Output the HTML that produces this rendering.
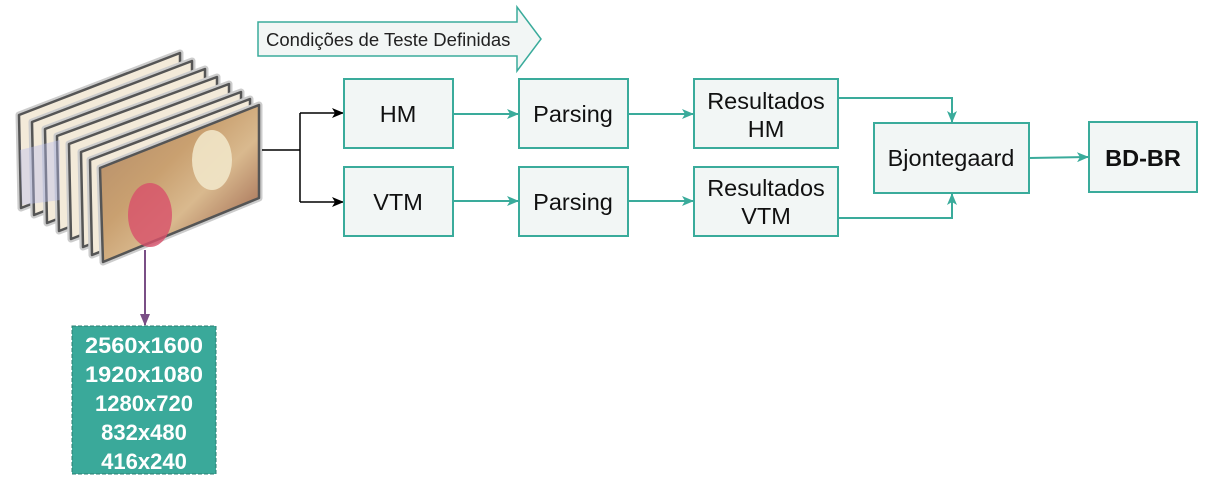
<!DOCTYPE html>
<html><head><meta charset="utf-8"><style>
body{margin:0;background:#fff}
svg{display:block}
text{font-family:"Liberation Sans",Arial,sans-serif}
</style></head><body>
<svg width="1208" height="500" viewBox="0 0 1208 500" xmlns="http://www.w3.org/2000/svg">
<defs>
<marker id="at" markerWidth="12" markerHeight="10" refX="11" refY="5" orient="auto" markerUnits="userSpaceOnUse"><path d="M0,0 L12,5 L0,10 L3,5 z" fill="#3aab9b"/></marker>
<marker id="ab" markerWidth="12" markerHeight="10" refX="11" refY="5" orient="auto" markerUnits="userSpaceOnUse"><path d="M0,0 L12,5 L0,10 L3,5 z" fill="#000"/></marker>
<linearGradient id="img" x1="0" y1="0" x2="1" y2="1"><stop offset="0" stop-color="#b08a6a"/><stop offset="0.4" stop-color="#c9a070"/><stop offset="0.6" stop-color="#d9b98e"/><stop offset="1" stop-color="#8a4a3a"/></linearGradient>
</defs>
<!-- frames -->
<g stroke-linejoin="round">
<g fill="#f3ead9" stroke="#555" stroke-width="2.5">
<path d="M19,115 L180,53 L180,146 L21,208 Z" stroke="#ccc" stroke-width="7"/>
<path d="M19,115 L180,53 L180,146 L21,208 Z"/>
<path d="M32,122 L192,61 L192,154 L34,215 Z" stroke="#ccc" stroke-width="7"/>
<path d="M32,122 L192,61 L192,154 L34,215 Z"/>
<path d="M45,129 L205,69 L205,162 L47,223 Z" stroke="#ccc" stroke-width="7"/>
<path d="M45,129 L205,69 L205,162 L47,223 Z"/>
<path d="M57,136 L217,77 L217,170 L59,231 Z" stroke="#ccc" stroke-width="7"/>
<path d="M57,136 L217,77 L217,170 L59,231 Z"/>
<path d="M69,144 L229,84 L229,178 L71,239 Z" stroke="#ccc" stroke-width="7"/>
<path d="M69,144 L229,84 L229,178 L71,239 Z"/>
<path d="M81,152 L241,92 L241,186 L83,247 Z" stroke="#ccc" stroke-width="7"/>
<path d="M81,152 L241,92 L241,186 L83,247 Z"/>
<path d="M90,160 L250,99 L250,192 L92,255 Z" stroke="#ccc" stroke-width="7"/>
<path d="M90,160 L250,99 L250,192 L92,255 Z"/>
</g>
<path d="M100,168 L259,105 L259,198 L103,262 Z" fill="url(#img)" stroke="#ccc" stroke-width="7"/>
<path d="M100,168 L259,105 L259,198 L103,262 Z" fill="url(#img)" stroke="#555" stroke-width="2.5"/>
<path d="M20,150 L60,140 L60,200 L22,205Z" fill="#b9bff0" opacity="0.4"/>
<ellipse cx="150" cy="215" rx="22" ry="32" fill="#d8506a" opacity="0.8"/>
<ellipse cx="212" cy="160" rx="20" ry="30" fill="#f1e6c8" opacity="0.9"/>
</g>
<!-- banner arrow -->
<path d="M258,22 L517,22 L517,7 L541,39 L517,71 L517,56 L258,56 Z" fill="#f2f6f5" stroke="#3aab9b" stroke-width="1.5"/>
<text x="266" y="46" font-size="18.5" fill="#222">Condições de Teste Definidas</text>
<!-- black connectors -->
<path d="M262,150 L300,150 M300,113 L300,202" stroke="#000" stroke-width="1.5" fill="none"/>
<path d="M300,113 L343,113" stroke="#000" stroke-width="1.5" marker-end="url(#ab)"/>
<path d="M300,202 L343,202" stroke="#000" stroke-width="1.5" marker-end="url(#ab)"/>
<!-- boxes -->
<g fill="#f2f6f5" stroke="#3aab9b" stroke-width="2">
<rect x="344" y="79" width="109" height="69"/>
<rect x="519" y="79" width="109" height="69"/>
<rect x="694" y="79" width="144" height="69"/>
<rect x="344" y="167" width="109" height="69"/>
<rect x="519" y="167" width="109" height="69"/>
<rect x="694" y="167" width="144" height="69"/>
<rect x="874" y="123" width="155" height="70"/>
<rect x="1089" y="122" width="108" height="70"/>
</g>
<g font-size="23.5" fill="#111" text-anchor="middle">
<text x="398" y="122">HM</text>
<text x="573" y="122">Parsing</text>
<text x="766" y="109">Resultados</text>
<text x="766" y="137">HM</text>
<text x="398" y="210">VTM</text>
<text x="573" y="210">Parsing</text>
<text x="766" y="196">Resultados</text>
<text x="766" y="224">VTM</text>
<text x="951" y="166">Bjontegaard</text>
<text x="1143" y="166" font-weight="bold">BD-BR</text>
</g>
<!-- teal connectors -->
<g stroke="#3aab9b" stroke-width="2" fill="none">
<path d="M453,114 L518,114" marker-end="url(#at)"/>
<path d="M628,114 L693,114" marker-end="url(#at)"/>
<path d="M453,201 L518,201" marker-end="url(#at)"/>
<path d="M628,201 L693,201" marker-end="url(#at)"/>
<path d="M838,98 L952,98 L952,122" marker-end="url(#at)"/>
<path d="M838,218 L952,218 L952,194" marker-end="url(#at)"/>
<path d="M1029,158 L1088,157" marker-end="url(#at)"/>
</g>
<!-- purple -->
<path d="M145,250 L145,325" stroke="#7a4f86" stroke-width="2" fill="none"/>
<path d="M140,314 L145,326 L150,314 Z" fill="#7a4f86"/>
<!-- resolutions -->
<rect x="72" y="326" width="144" height="148" fill="#3aa99a" stroke="#2a7f73" stroke-dasharray="4,2"/>
<g font-size="22" font-weight="bold" fill="#fff" text-anchor="middle">
<text x="144" y="353" textLength="118" lengthAdjust="spacingAndGlyphs">2560x1600</text>
<text x="144" y="382" textLength="118" lengthAdjust="spacingAndGlyphs">1920x1080</text>
<text x="144" y="411">1280x720</text>
<text x="144" y="440">832x480</text>
<text x="144" y="469">416x240</text>
</g>
</svg>
</body></html>
